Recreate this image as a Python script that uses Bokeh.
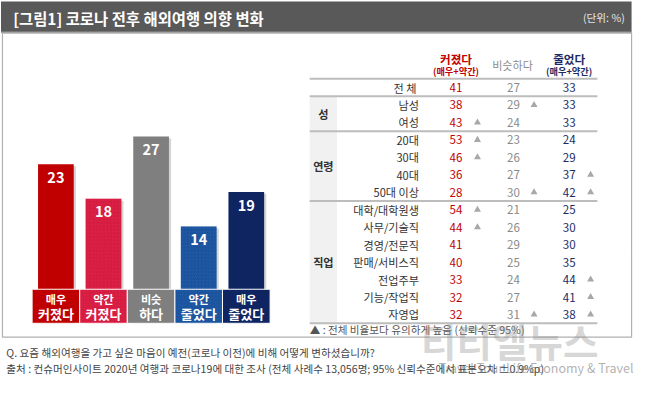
from bokeh.plotting import figure
from bokeh.models import Range1d, ColumnDataSource
from bokeh.core.properties import value
from bokeh.embed import file_html
from bokeh.resources import INLINE

# ---------------- data ----------------
title = "[그림1] 코로나 전후 해외여행 의향 변화"
unit = "(단위: %)"

bar_top_words = ["매우", "약간", "비슷", "약간", "매우"]
bar_bottom_words = ["커졌다", "커졌다", "하다", "줄었다", "줄었다"]
bar_values = [23, 18, 27, 14, 19]
bar_colors = ["#c00000", "#e8234b", "#7f7f7f", "#2461ae", "#0f2562"]
bar_hatches = ["blank", "right_diagonal_line", "blank", "right_diagonal_line", "blank"]
bar_hatch_colors = ["#c00000", "#b5102f", "#7f7f7f", "#0c3a80", "#0f2562"]

col_headers = ["커졌다", "비슷하다", "줄었다"]
col_subheaders = ["(매우+약간)", "", "(매우+약간)"]
col_colors = ["#c00000", "#8c8c8c", "#1c2b66"]

row_labels = ["전  체", "남성", "여성", "20대", "30대", "40대", "50대 이상",
              "대학/대학원생", "사무/기술직", "경영/전문직", "판매/서비스직",
              "전업주부", "기능/작업직", "자영업"]
pct_bigger = [41, 38, 43, 53, 46, 36, 28, 54, 44, 41, 40, 33, 32, 32]
pct_same = [27, 29, 24, 23, 26, 27, 30, 21, 26, 29, 25, 24, 27, 31]
pct_smaller = [33, 33, 33, 24, 29, 37, 42, 25, 30, 30, 35, 44, 41, 38]
sig_bigger = [0, 0, 1, 1, 1, 0, 0, 1, 1, 0, 0, 0, 0, 0]
sig_same = [0, 1, 0, 0, 0, 0, 1, 0, 0, 0, 0, 0, 0, 1]
sig_smaller = [0, 0, 0, 0, 0, 1, 1, 0, 0, 0, 0, 1, 1, 1]

group_names = ["성", "연령", "직업"]
group_first_row = [1, 3, 7]
group_last_row = [2, 6, 13]

footnote = "▲ : 전체 비율보다 유의하게 높음 (신뢰수준 95%)"
question = "Q. 요즘 해외여행을 가고 싶은 마음이 예전(코로나 이전)에 비해 어떻게 변하셨습니까?"
source = "출처 : 컨슈머인사이트 2020년 여행과 코로나19에 대한 조사 (전체 사례수 13,056명; 95% 신뢰수준에서 표본오차 ±0.9%p)"
watermark = "티티엘뉴스"
watermark_sub = "Travel Tour Life Economy & Travel"

# ---------------- layout (reference pixel space) ----------------
W, H = 650, 393
FONT = value("Noto Sans CJK KR")
SC = 0.965


def fs(px):
    return value(f"{px * SC:.1f}px")


BAR_X0, BAR_STEP = 56.8, 48.8      # centre of first bar, spacing
BASE_Y, PX_PER = 336.5, 7.21       # zero line and px per percent
ROW0, ROW_STEP = 90.7, 18.2        # first table row centre, row spacing

p = figure(width=634, height=377, x_range=Range1d(0, W), y_range=Range1d(H, 0),
           output_backend="svg", toolbar_location=None,
           x_axis_location=None, y_axis_location=None, min_border=0,
           outline_line_color=None, background_fill_color="white",
           border_fill_color="white")
p.grid.visible = False
p.extra_x_ranges = {"bx": Range1d(-BAR_X0 / BAR_STEP, (W - BAR_X0) / BAR_STEP)}
p.extra_y_ranges = {"by": Range1d(-(H - BASE_Y) / PX_PER, BASE_Y / PX_PER),
                    "ty": Range1d((H - ROW0) / ROW_STEP, -ROW0 / ROW_STEP)}

# title bar and panel
p.quad(left=[0.5], right=[647], top=[1], bottom=[33], fill_color="#595959", line_color=None)
p.segment(x0=[0.5], x1=[647], y0=[33], y1=[33], line_color="#9a9a9a", line_width=1.5)
p.quad(left=[2], right=[647], top=[34], bottom=[351], fill_color="white",
       line_color="#b0b0b0", line_width=1.2)
p.text(x=[13], y=[18], text=[title], text_font=FONT, text_font_size=fs(16),
       text_font_style="bold", text_color="white", text_align="left", text_baseline="middle")
p.text(x=[640], y=[18], text=[unit], text_font=FONT, text_font_size=fs(11),
       text_color="#e6e6e6", text_align="right", text_baseline="middle")

# ---------------- bars ----------------
idx = list(range(len(bar_values)))
bsrc = ColumnDataSource(dict(
    x=idx, top=bar_values, color=bar_colors, hatch=bar_hatches, hcolor=bar_hatch_colors,
    shadow_x=[i + 0.045 for i in idx], shadow_top=[v - 0.28 for v in bar_values],
    left=[i - 0.5 for i in idx], right=[i + 0.5 for i in idx],
    label=[str(v) for v in bar_values], label_y=[v - 1.9 for v in bar_values],
    w1=bar_top_words, w2=bar_bottom_words))

p.vbar(x="shadow_x", top="shadow_top", bottom=0, width=0.75, source=bsrc,
       fill_color="#d4d4d4", line_color=None, x_range_name="bx", y_range_name="by")
p.vbar(x="x", top="top", bottom=0, width=0.75, source=bsrc,
       fill_color="color", line_color=None, hatch_pattern="hatch", hatch_color="hcolor",
       hatch_alpha=0.55, hatch_scale=3.5, hatch_weight=1,
       x_range_name="bx", y_range_name="by")
p.text(x="x", y="label_y", text="label", source=bsrc, text_font=FONT,
       text_font_size=fs(15), text_font_style="bold", text_color="white",
       text_align="center", text_baseline="middle", x_range_name="bx", y_range_name="by")

# category boxes under bars
p.quad(left="left", right="right", top=301, bottom=336.5, source=bsrc,
       fill_color="color", line_color="white", line_width=1,
       hatch_pattern="hatch", hatch_color="hcolor", hatch_alpha=0.55,
       hatch_scale=3.5, hatch_weight=1, x_range_name="bx")
p.text(x="x", y=311, text="w1", source=bsrc, text_font=FONT, text_font_size=fs(11.5),
       text_font_style="bold", text_color="white", text_align="center",
       text_baseline="middle", x_range_name="bx")
p.text(x="x", y=326, text="w2", source=bsrc, text_font=FONT, text_font_size=fs(13.5),
       text_font_style="bold", text_color="white", text_align="center",
       text_baseline="middle", x_range_name="bx")

# ---------------- table ----------------
TX0, TX1 = 317, 612
LABEL_X = 429
VAL_X = [467, 526, 583]
TRI_X = [489, 547, 605]
GBOX_X1 = 345

# group shaded boxes
gsrc = ColumnDataSource(dict(
    top=[f - 0.5 for f in group_first_row], bottom=[l + 0.5 for l in group_last_row],
    mid=[(f + l) / 2 for f, l in zip(group_first_row, group_last_row)], name=group_names))
p.quad(left=TX0, right=GBOX_X1, top="top", bottom="bottom", source=gsrc,
       fill_color="#f1f1f1", line_color=None, y_range_name="ty")
p.text(x=331, y="mid", text="name", source=gsrc, text_font=FONT, text_font_size=fs(11.5),
       text_font_style="bold", text_color="#333333", text_align="center",
       text_baseline="middle", y_range_name="ty")

# horizontal rules
rule_rows = [-0.5, 0.5] + [l + 0.5 for l in group_last_row]
p.segment(x0=TX0, x1=TX1, y0=rule_rows, y1=rule_rows, line_color="#bdbdbd",
          line_width=2, y_range_name="ty")

# headers
for k in range(3):
    if col_subheaders[k]:
        p.text(x=[VAL_X[k]], y=[61], text=[col_headers[k]], text_font=FONT,
               text_font_size=fs(12), text_font_style="bold", text_color=col_colors[k],
               text_align="center", text_baseline="middle")
        p.text(x=[VAL_X[k]], y=[73.5], text=[col_subheaders[k]], text_font=FONT,
               text_font_size=fs(9.5), text_font_style="bold", text_color=col_colors[k],
               text_align="center", text_baseline="middle")
    else:
        p.text(x=[VAL_X[k] - 1], y=[67], text=[col_headers[k]], text_font=FONT,
               text_font_size=fs(11.5), text_color=col_colors[k],
               text_align="center", text_baseline="middle")

rows = list(range(len(row_labels)))
tsrc = ColumnDataSource(dict(row=rows, label=row_labels,
                             b=[str(v) for v in pct_bigger],
                             s=[str(v) for v in pct_same],
                             m=[str(v) for v in pct_smaller]))
p.text(x=LABEL_X, y="row", text="label", source=tsrc, text_font=FONT,
       text_font_size=fs(11.5), text_color="#333333", text_align="right",
       text_baseline="middle", y_range_name="ty")
for k, col in enumerate(["b", "s", "m"]):
    p.text(x=VAL_X[k], y="row", text=col, source=tsrc, text_font=FONT,
           text_font_size=fs(12), text_color=col_colors[k] if k != 1 else "#8a8a8a",
           text_align="center", text_baseline="middle", y_range_name="ty")

for k, flags in enumerate([sig_bigger, sig_same, sig_smaller]):
    tri_rows = [r for r, f in zip(rows, flags) if f]
    p.scatter(x=[TRI_X[k]] * len(tri_rows), y=tri_rows, marker="triangle", size=7,
              fill_color="#a8a8a8", line_color=None, y_range_name="ty")

# footnote inside panel
p.text(x=[TX0], y=[343], text=[footnote], text_font=FONT, text_font_size=fs(11),
       text_color="#555555", text_align="left", text_baseline="middle")

# ---------------- footer ----------------
p.text(x=[6], y=[367], text=[question], text_font=FONT, text_font_size=fs(11),
       text_color="#444444", text_align="left", text_baseline="middle")
p.text(x=[6], y=[384], text=[source], text_font=FONT, text_font_size=fs(11),
       text_color="#444444", text_align="left", text_baseline="middle")

# watermark
p.text(x=[522], y=[354], text=[watermark], text_font=FONT, text_font_size=fs(40),
       text_font_style="bold", text_color="#8c8c8c", text_alpha=0.35,
       text_align="center", text_baseline="middle")
p.text(x=[649], y=[383], text=[watermark_sub], text_font=FONT, text_font_size=fs(13),
       text_color="#6e6e6e", text_alpha=0.55, text_align="right", text_baseline="middle")

open("out.html", "w").write(file_html(p, INLINE))
